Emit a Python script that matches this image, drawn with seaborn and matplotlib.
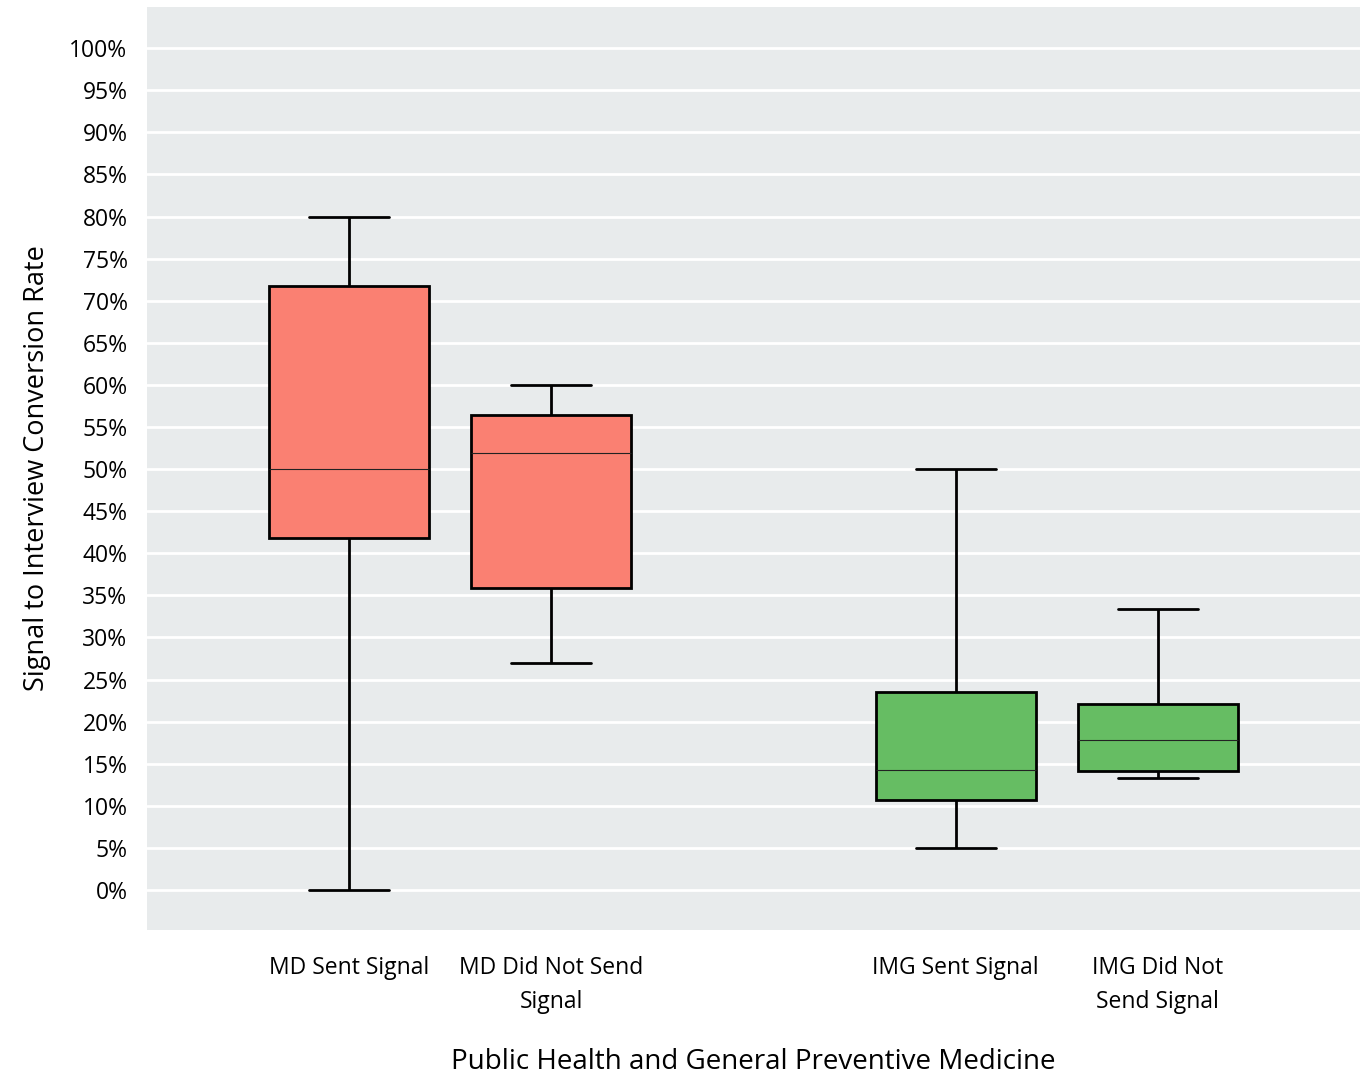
import pandas as pd
import seaborn as sns
import matplotlib.pyplot as plt
from matplotlib.ticker import FuncFormatter

# Groups and five-number summaries (percent)
groups = ['MD Sent Signal', 'MD Did Not Send\nSignal', '', 'IMG Sent Signal', 'IMG Did Not\nSend Signal']
md_sent = [0, 41.8, 50.0, 71.7, 80.0]
md_not_sent = [27.0, 35.9, 51.9, 56.4, 60.0]
img_sent = [5.0, 10.7, 14.3, 23.5, 50.0]
img_not_sent = [13.3, 14.1, 17.8, 22.1, 33.4]
colors = {groups[0]: '#FA8072', groups[1]: '#FA8072', groups[3]: '#66BD63', groups[4]: '#66BD63'}

rows = []
for g, vals in zip([groups[0], groups[1], groups[3], groups[4]],
                   [md_sent, md_not_sent, img_sent, img_not_sent]):
    for v in vals:
        rows.append({'group': g, 'rate': v})
data = pd.DataFrame(rows)

sns.set_theme(style='darkgrid', rc={'axes.facecolor': '#E8EBEC', 'grid.color': 'white', 'grid.linewidth': 2,
                                    'text.color': 'black', 'axes.labelcolor': 'black',
                                    'xtick.color': 'black', 'ytick.color': 'black'})
plt.rcParams['font.family'] = ['Open Sans', 'DejaVu Sans']

fig = plt.figure(figsize=(13.67, 10.75), dpi=100)
ax = fig.add_axes([0.1075, 0.1349, 0.8874, 0.8586])

sns.boxplot(x='group', y='rate', data=data, order=groups, hue='group', palette=colors,
            saturation=1, whis=(0, 100), width=0.79, linewidth=2, linecolor='black', legend=False,
            medianprops={'linewidth': 0.8, 'color': '#222222'},
            capprops={'linewidth': 2}, whiskerprops={'linewidth': 2},
            boxprops={'linewidth': 2}, ax=ax)

ax.set_xlim(-1, 5)
ax.set_ylim(-4.75, 104.9)
ax.set_yticks(range(0, 101, 5))
ax.yaxis.set_major_formatter(FuncFormatter(lambda v, p: f'{v:.0f}%'))
ax.xaxis.grid(False)
ax.tick_params(axis='y', labelsize=16.5, pad=8)
ax.tick_params(axis='x', labelsize=16.5, pad=13)
for lbl in ax.get_xticklabels():
    lbl.set_linespacing(1.55)
ax.set_ylabel('Signal to Interview Conversion Rate', fontsize=19.5, labelpad=13)
ax.set_xlabel('Public Health and General Preventive Medicine', fontsize=20, labelpad=24)
for s in ax.spines.values():
    s.set_visible(False)

plt.savefig('out.png', dpi=100)
